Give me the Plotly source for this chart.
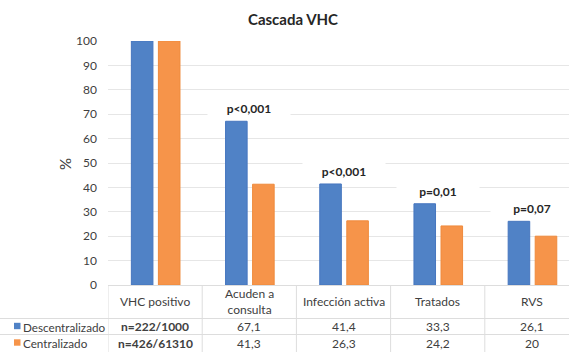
import plotly.graph_objects as go

# Cascade stages and percentages per care model
stages = ["VHC positivo", "Acuden a consulta", "Infección activa", "Tratados", "RVS"]
stage_labels = ["VHC positivo", "Acuden a<br>consulta", "Infección activa", "Tratados", "RVS"]
descentralizado = [100, 67.1, 41.4, 33.3, 26.1]
centralizado = [100, 41.3, 26.3, 24.2, 20]
desc_table = ["n=222/1000", "67,1", "41,4", "33,3", "26,1"]
cent_table = ["n=426/61310", "41,3", "26,3", "24,2", "20"]
p_values = [None, "p<0,001", "p<0,001", "p=0,01", "p=0,07"]
series_names = ["Descentralizado", "Centralizado"]

W, H = 569, 352
ML, MR, MT, MB = 108, 0, 41, 67
PW, PH = W - ML - MR, H - MT - MB
CAT_PX = 94.2

BLUE, BLUE_EDGE = "#5082C6", "#4676BF"
ORANGE, ORANGE_EDGE = "#F6944A", "#EF8A3C"
TEXT = "#404040"
GRID = "#E6E6E6"
FONT = "Lato"


def px_x(p):
    return (p - ML) / PW


def px_y(p):
    return (H - MB - p) / PH


fig = go.Figure()
fig.add_trace(go.Bar(x=stages, y=descentralizado, name=series_names[0],
                     marker=dict(color=BLUE, line=dict(color=BLUE_EDGE, width=1)),
                     width=0.229, offset=-0.252))
fig.add_trace(go.Bar(x=stages, y=centralizado, name=series_names[1],
                     marker=dict(color=ORANGE, line=dict(color=ORANGE_EDGE, width=1)),
                     width=0.229, offset=0.035))

annotations = []
# significance labels above each pair
for s, v, p in zip(stages, descentralizado, p_values):
    if p is None:
        continue
    annotations.append(dict(x=s, y=v, xref="x", yref="y", text="<b>%s</b>" % p,
                            showarrow=False, yshift=13, bgcolor="white",
                            width=80, height=20,
                            font=dict(family=FONT, size=12, color="#262626")))


def cell(x, ypx, text, xref="x", xanchor="center", size=12):
    return dict(x=x, y=px_y(ypx), xref=xref, yref="paper", text=text,
                xanchor=xanchor, yanchor="middle", showarrow=False,
                font=dict(family=FONT, size=size, color=TEXT))


# data table beneath the axis
for s, lab, d, c in zip(stages, stage_labels, desc_table, cent_table):
    annotations.append(cell(s, 301.5, lab))
    bold = d.startswith("n=")
    annotations.append(cell(s, 326.5, ("<b>%s</b>" % d) if bold else d))
    annotations.append(cell(s, 343, ("<b>%s</b>" % c) if bold else c))

for name, ypx in zip(series_names, [326.5, 343]):
    annotations.append(cell(px_x(21), ypx, name, xref="paper", xanchor="left", size=11.7))

# axis title
annotations.append(dict(x=px_x(65), y=px_y(164), xref="paper", yref="paper", text="%",
                        xanchor="center", yanchor="middle",
                        textangle=-90, showarrow=False,
                        font=dict(family=FONT, size=15, color=TEXT)))

shapes = []
for col, ypx in zip([BLUE, ORANGE], [326, 342.5]):
    shapes.append(dict(type="rect", xref="paper", yref="paper",
                       x0=px_x(14), x1=px_x(20.5), y0=px_y(ypx - 3.2), y1=px_y(ypx + 3.2),
                       fillcolor=col, line=dict(width=0)))
# table grid
for ypx in [318.5, 334.5]:
    shapes.append(dict(type="line", xref="paper", yref="paper",
                       x0=px_x(0), x1=1, y0=px_y(ypx), y1=px_y(ypx),
                       line=dict(color="#DDDDDD", width=1)))
for k in range(len(stages)):
    shapes.append(dict(type="line", xref="x", yref="paper",
                       x0=k - 0.5, x1=k - 0.5, y0=0, y1=px_y(H + 2),
                       line=dict(color="#DDDDDD", width=1)))

fig.update_layout(
    width=W, height=H,
    margin=dict(l=ML, r=MR, t=MT, b=MB, pad=0),
    paper_bgcolor="white", plot_bgcolor="white",
    barmode="overlay", showlegend=False,
    title=dict(text="<b>Cascada VHC</b>", x=293 / W, xanchor="center",
               y=1 - 20 / H, yanchor="middle",
               font=dict(family=FONT, size=15, color="#262626")),
    xaxis=dict(type="category", range=[-0.5, -0.5 + PW / CAT_PX],
               showticklabels=False, ticks="", showgrid=False,
               showline=True, linecolor="#DDDDDD", linewidth=1, zeroline=False),
    yaxis=dict(range=[0, 100], dtick=10, showgrid=True, gridcolor=GRID, gridwidth=1,
               zeroline=False, showline=False, ticks="", ticklabelstandoff=10,
               tickfont=dict(family=FONT, size=12, color=TEXT)),
    annotations=annotations, shapes=shapes,
)

fig.write_html("out.html")
